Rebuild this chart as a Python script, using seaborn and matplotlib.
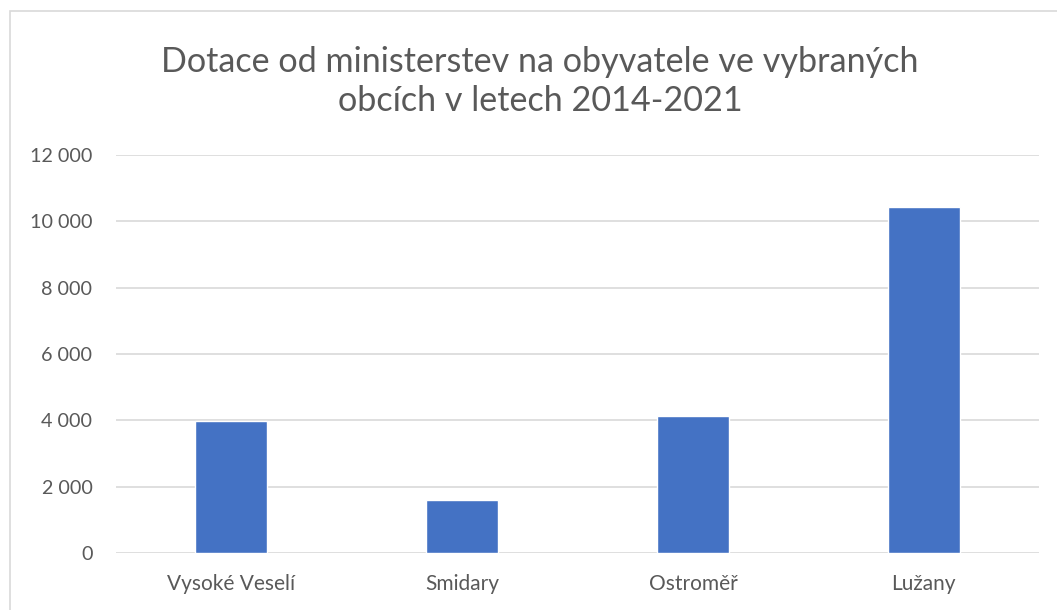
import numpy as np
import pandas as pd
import matplotlib
matplotlib.use("Agg")
import matplotlib.pyplot as plt
from matplotlib.patches import Rectangle
from matplotlib.ticker import FuncFormatter
import seaborn as sns

# === Data ===
obce = ["Vysoké Veselí", "Smidary", "Ostroměř", "Lužany"]
dotace = [3990, 1600, 4120, 10440]
y_ticks = [0, 2000, 4000, 6000, 8000, 10000, 12000]

df = pd.DataFrame({"obec": obce, "dotace": dotace})

TEXT = "#595959"
BAR = "#4472C4"
GRID = "#D9D9D9"

sns.set_theme(style="white")
plt.rcParams["font.family"] = ["Lato", "DejaVu Sans"]

fig = plt.figure(figsize=(10.57, 6.10), dpi=100)
ax = fig.add_axes([116 / 1057, 1 - 553 / 610, (1039 - 116) / 1057, (553 - 155) / 610])

sns.barplot(data=df, x="obec", y="dotace", color=BAR, width=0.312,
            saturation=1, ax=ax, zorder=3)

ax.set_ylim(0, 12000)
ax.set_xlim(-0.5, len(obce) - 0.5)
ax.set_yticks(y_ticks)
ax.yaxis.set_major_formatter(FuncFormatter(lambda v, p: f"{int(v):,}".replace(",", " ")))
ax.grid(axis="y", color=GRID, linewidth=1.2, zorder=0)
for s in ax.spines.values():
    s.set_visible(False)
ax.tick_params(axis="both", length=0, labelcolor=TEXT)
ax.tick_params(axis="y", pad=17, labelsize=14.2)
ax.tick_params(axis="x", pad=15, labelsize=15)
ax.set_xlabel("")
ax.set_ylabel("")

fig.text(0.511, 0.866, "Dotace od ministerstev na obyvatele ve vybraných\nobcích v letech 2014-2021",
         ha="center", va="center", fontsize=24.6, color=TEXT, linespacing=1.25)

# outer chart border (cropped at right and bottom)
fig.patches.append(Rectangle((10 / 1057, -0.1), 1.2, 1 - 11 / 610 + 0.1,
                             transform=fig.transFigure, fill=False,
                             edgecolor="#D9D9D9", linewidth=1.2))

fig.savefig("out.png", dpi=100)
